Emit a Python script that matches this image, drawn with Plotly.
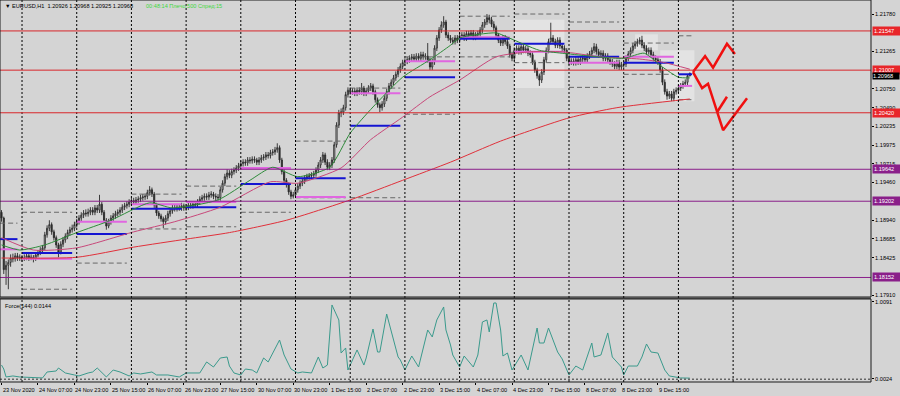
import plotly.graph_objects as go

# ---------------- DATA ----------------
first_open = 1.1905
closes = [1.1897,1.1826,1.1832,1.1836,1.1842,1.1841,1.1845,1.1842,1.1843,1.1841,
 1.1842,1.1845,1.1842,1.1843,1.1841,1.1846,1.1849,1.1853,1.1856,1.1874,
 1.1883,1.1888,1.1878,1.1870,1.1860,1.1850,1.1861,1.1867,1.1872,1.1877,
 1.1881,1.1883,1.1888,1.1892,1.1897,1.1901,1.1904,1.1903,1.1905,1.1908,
 1.1905,1.1911,1.1908,1.1916,1.1905,1.1894,1.1886,1.1892,1.1897,1.1900,
 1.1903,1.1905,1.1908,1.1912,1.1914,1.1916,1.1919,1.1921,1.1919,1.1922,
 1.1923,1.1925,1.1926,1.1927,1.1932,1.1936,1.1930,1.1915,1.1904,1.1900,
 1.1896,1.1892,1.1897,1.1903,1.1907,1.1911,1.1910,1.1912,1.1911,1.1914,
 1.1911,1.1912,1.1915,1.1914,1.1916,1.1915,1.1919,1.1923,1.1925,1.1927,
 1.1926,1.1929,1.1930,1.1927,1.1926,1.1925,1.1936,1.1945,1.1954,1.1959,
 1.1956,1.1961,1.1963,1.1966,1.1969,1.1972,1.1974,1.1973,1.1977,1.1976,
 1.1978,1.1977,1.1974,1.1977,1.1980,1.1981,1.1984,1.1983,1.1987,1.1988,
 1.1991,1.1994,1.1977,1.1961,1.1949,1.1943,1.1933,1.1927,1.1929,1.1936,
 1.1941,1.1945,1.1948,1.1952,1.1954,1.1955,1.1956,1.1958,1.1963,1.1970,
 1.1977,1.1984,1.1974,1.1967,1.1970,1.1977,1.1998,1.2025,1.2042,1.2043,
 1.2049,1.2067,1.2073,1.2071,1.2072,1.2069,1.2073,1.2071,1.2076,1.2069,
 1.2072,1.2076,1.2079,1.2071,1.2060,1.2053,1.2049,1.2054,1.2062,1.2071,
 1.2079,1.2084,1.2090,1.2095,1.2101,1.2106,1.2111,1.2113,1.2115,1.2117,
 1.2119,1.2116,1.2120,1.2117,1.2122,1.2119,1.2120,1.2115,1.2105,1.2112,
 1.2131,1.2145,1.2156,1.2163,1.2167,1.2149,1.2145,1.2142,1.2140,1.2145,
 1.2142,1.2148,1.2149,1.2145,1.2151,1.2148,1.2152,1.2146,1.2149,1.2151,
 1.2156,1.2163,1.2167,1.2173,1.2170,1.2164,1.2159,1.2149,1.2142,1.2138,
 1.2145,1.2140,1.2134,1.2122,1.2117,1.2128,1.2131,1.2126,1.2133,1.2128,
 1.2130,1.2124,1.2122,1.2112,1.2101,1.2093,1.2087,1.2098,1.2115,1.2128,
 1.2140,1.2145,1.2140,1.2135,1.2142,1.2134,1.2131,1.2128,1.2117,1.2112,
 1.2113,1.2111,1.2115,1.2112,1.2116,1.2117,1.2115,1.2120,1.2123,1.2128,
 1.2133,1.2126,1.2122,1.2124,1.2117,1.2120,1.2115,1.2112,1.2109,1.2106,
 1.2111,1.2105,1.2108,1.2109,1.2117,1.2123,1.2128,1.2134,1.2137,1.2140,
 1.2142,1.2135,1.2131,1.2126,1.2128,1.2122,1.2117,1.2115,1.2112,1.2101,
 1.2084,1.2071,1.2065,1.2068,1.2062,1.2071,1.2073,1.2076,1.2079,1.2082,
 1.2084,1.2093,1.20968]

highs = [1.1908,1.1899,1.1838,1.1840,1.1847,1.1848,1.1849,1.1849,1.1847,1.1846,
 1.1847,1.1849,1.1848,1.1847,1.1846,1.1850,1.1853,1.1857,1.1860,1.1878,
 1.1887,1.1894,1.1891,1.1881,1.1873,1.1863,1.1865,1.1871,1.1876,1.1881,
 1.1885,1.1888,1.1892,1.1896,1.1901,1.1905,1.1908,1.1909,1.1910,1.1912,
 1.1912,1.1915,1.1915,1.1929,1.1919,1.1908,1.1897,1.1896,1.1901,1.1904,
 1.1907,1.1909,1.1912,1.1916,1.1918,1.1920,1.1923,1.1925,1.1925,1.1926,
 1.1927,1.1929,1.1930,1.1931,1.1936,1.1941,1.1939,1.1933,1.1918,1.1907,
 1.1903,1.1899,1.1901,1.1907,1.1911,1.1915,1.1915,1.1916,1.1916,1.1918,
 1.1917,1.1916,1.1919,1.1919,1.1920,1.1920,1.1923,1.1927,1.1929,1.1931,
 1.1931,1.1933,1.1934,1.1933,1.1931,1.1930,1.1940,1.1949,1.1958,1.1964,
 1.1963,1.1965,1.1967,1.1970,1.1973,1.1976,1.1978,1.1978,1.1981,1.1981,
 1.1982,1.1982,1.1980,1.1981,1.1984,1.1985,1.1988,1.1988,1.1991,1.1992,
 1.1995,1.2000,1.1997,1.1980,1.1964,1.1952,1.1946,1.1936,1.1933,1.1940,
 1.1945,1.1949,1.1952,1.1956,1.1958,1.1959,1.1960,1.1962,1.1967,1.1974,
 1.1981,1.1988,1.1987,1.1978,1.1974,1.1981,1.2002,1.2029,1.2046,1.2048,
 1.2053,1.2071,1.2077,1.2077,1.2076,1.2076,1.2077,1.2077,1.2083,1.2079,
 1.2076,1.2080,1.2083,1.2082,1.2074,1.2063,1.2056,1.2058,1.2066,1.2075,
 1.2083,1.2088,1.2094,1.2099,1.2105,1.2110,1.2115,1.2117,1.2119,1.2121,
 1.2123,1.2123,1.2124,1.2124,1.2126,1.2126,1.2124,1.2138,1.2118,1.2116,
 1.2135,1.2149,1.2160,1.2168,1.2175,1.2170,1.2153,1.2149,1.2146,1.2149,
 1.2149,1.2152,1.2153,1.2153,1.2155,1.2155,1.2156,1.2156,1.2153,1.2155,
 1.2160,1.2167,1.2171,1.2178,1.2177,1.2174,1.2168,1.2162,1.2152,1.2146,
 1.2149,1.2149,1.2144,1.2137,1.2126,1.2132,1.2135,1.2135,1.2137,1.2137,
 1.2134,1.2134,1.2128,1.2126,1.2115,1.2104,1.2096,1.2102,1.2119,1.2132,
 1.2144,1.2166,1.2149,1.2144,1.2146,1.2146,1.2138,1.2135,1.2131,1.2121,
 1.2117,1.2117,1.2119,1.2119,1.2120,1.2121,1.2121,1.2124,1.2127,1.2132,
 1.2138,1.2137,1.2130,1.2128,1.2128,1.2124,1.2124,1.2119,1.2116,1.2113,
 1.2115,1.2115,1.2112,1.2113,1.2121,1.2127,1.2132,1.2138,1.2141,1.2144,
 1.2146,1.2148,1.2139,1.2135,1.2132,1.2132,1.2126,1.2121,1.2119,1.2116,
 1.2105,1.2088,1.2075,1.2072,1.2072,1.2075,1.2077,1.2080,1.2083,1.2086,
 1.2088,1.2094,1.20968]

lows = [1.1892,1.1820,1.1805,1.1799,1.1830,1.1836,1.1837,1.1838,1.1838,1.1837,
 1.1838,1.1839,1.1838,1.1839,1.1836,1.1838,1.1843,1.1846,1.1850,1.1853,
 1.1870,1.1879,1.1874,1.1866,1.1856,1.1843,1.1847,1.1857,1.1863,1.1868,
 1.1873,1.1877,1.1879,1.1884,1.1888,1.1893,1.1897,1.1899,1.1899,1.1901,
 1.1901,1.1901,1.1904,1.1904,1.1901,1.1890,1.1881,1.1883,1.1888,1.1893,
 1.1896,1.1899,1.1901,1.1904,1.1908,1.1910,1.1912,1.1915,1.1915,1.1915,
 1.1918,1.1919,1.1921,1.1922,1.1923,1.1928,1.1926,1.1911,1.1900,1.1896,
 1.1892,1.1883,1.1888,1.1893,1.1899,1.1903,1.1906,1.1906,1.1907,1.1907,
 1.1907,1.1907,1.1908,1.1910,1.1910,1.1911,1.1911,1.1915,1.1919,1.1921,
 1.1922,1.1922,1.1925,1.1923,1.1921,1.1921,1.1921,1.1932,1.1941,1.1950,
 1.1952,1.1952,1.1957,1.1959,1.1962,1.1965,1.1968,1.1969,1.1969,1.1972,
 1.1972,1.1973,1.1970,1.1970,1.1973,1.1976,1.1977,1.1979,1.1979,1.1983,
 1.1984,1.1987,1.1973,1.1957,1.1945,1.1939,1.1929,1.1923,1.1924,1.1925,
 1.1932,1.1937,1.1941,1.1944,1.1948,1.1950,1.1951,1.1952,1.1954,1.1959,
 1.1966,1.1973,1.1970,1.1963,1.1963,1.1966,1.1973,1.1994,1.2021,1.2036,
 1.2039,1.2045,1.2063,1.2067,1.2067,1.2065,1.2065,1.2067,1.2067,1.2065,
 1.2065,1.2068,1.2072,1.2067,1.2056,1.2049,1.2043,1.2045,1.2050,1.2058,
 1.2067,1.2075,1.2080,1.2086,1.2091,1.2097,1.2102,1.2107,1.2109,1.2111,
 1.2113,1.2112,1.2112,1.2113,1.2113,1.2115,1.2115,1.2111,1.2101,1.2101,
 1.2108,1.2127,1.2141,1.2152,1.2159,1.2145,1.2141,1.2138,1.2136,1.2136,
 1.2138,1.2138,1.2144,1.2141,1.2141,1.2144,1.2144,1.2142,1.2142,1.2145,
 1.2147,1.2152,1.2159,1.2163,1.2165,1.2160,1.2155,1.2145,1.2138,1.2134,
 1.2134,1.2136,1.2130,1.2118,1.2113,1.2113,1.2124,1.2122,1.2122,1.2124,
 1.2124,1.2120,1.2118,1.2108,1.2097,1.2089,1.2079,1.2083,1.2094,1.2111,
 1.2124,1.2136,1.2136,1.2131,1.2131,1.2130,1.2127,1.2124,1.2113,1.2108,
 1.2108,1.2107,1.2107,1.2108,1.2108,1.2112,1.2111,1.2111,1.2116,1.2119,
 1.2124,1.2122,1.2118,1.2118,1.2113,1.2113,1.2111,1.2108,1.2105,1.2102,
 1.2102,1.2101,1.2101,1.2104,1.2105,1.2113,1.2119,1.2124,1.2130,1.2133,
 1.2136,1.2131,1.2127,1.2122,1.2122,1.2118,1.2113,1.2111,1.2108,1.2097,
 1.2080,1.2067,1.2060,1.2061,1.2058,1.2058,1.2067,1.2069,1.2072,1.2075,
 1.2078,1.2080,1.20925]

# moving averages (read at sample bars)
slow_ma_bar = [0,33,58,81,100,125,153,176,197,219,249,270,302]
slow_ma_val = [1.1842,1.1843,1.1857,1.1868,1.1877,1.1894,1.1922,1.1949,1.1974,1.2003,1.2035,1.2049,1.2061]
mid_ma_bar = [0,14,33,58,76,96,118,130,149,162,176,188,201,217,232,246,263,280,291,302]
mid_ma_val = [1.1870,1.1853,1.1856,1.1878,1.1892,1.1912,1.1947,1.1945,1.1966,1.2005,1.2036,1.2064,1.2087,1.2119,1.2126,1.2126,1.2119,1.2116,1.2111,1.2102]
fast_ma_bar = [0,8,19,33,48,65,75,95,109,119,130,144,153,163,176,188,197,201,217,222,236,246,273,282,290,297,302]
fast_ma_val = [1.1860,1.1853,1.1860,1.1877,1.1894,1.1918,1.1911,1.1922,1.1949,1.1967,1.1954,1.1967,1.2014,1.2050,1.2091,1.2115,1.2135,1.2145,1.2152,1.2146,1.2128,1.2124,1.2117,1.2124,1.2105,1.2091,1.2090]

# Force index (lower pane)
force_bar = [0,1,2,5,8,18,20,24,25,28,32,34,38,40,42,43,46,49,52,56,58,61,66,68,73,78,81,87,90,93,96,99,100,102,105,107,110,112,115,117,119,122,124,127,130,132,136,139,141,143,145,148,149,151,152,156,159,160,163,165,166,169,174,175,177,180,183,187,189,191,194,195,197,198,201,203,207,209,211,213,214,216,217,219,220,222,224,228,231,235,236,238,240,244,246,249,252,255,259,260,263,266,268,272,273,275,279,281,283,285,288,291,293,298,302]
force_val = [0.185,0.133,0.029,0.042,0.029,0.016,0.094,0.107,0.146,0.081,0.055,0.042,0.081,0.094,0.146,0.120,0.029,0.120,0.094,0.042,0.081,0.068,0.094,0.055,0.055,0.029,0.081,0.081,0.225,0.159,0.277,0.290,0.172,0.081,0.055,0.133,0.120,0.081,0.277,0.225,0.342,0.512,0.316,0.133,0.081,0.094,0.081,0.290,0.146,0.185,0.970,0.774,0.342,0.408,0.120,0.382,0.185,0.277,0.656,0.355,0.355,0.852,0.290,0.251,0.120,0.303,0.159,0.643,0.552,0.774,0.944,0.643,0.447,0.316,0.159,0.303,0.159,0.316,0.748,0.774,0.617,0.996,0.996,0.643,0.303,0.342,0.120,0.316,0.120,0.669,0.473,0.473,0.669,0.355,0.264,0.055,0.172,0.120,0.473,0.290,0.316,0.604,0.290,0.159,0.055,0.172,0.172,0.290,0.460,0.355,0.342,0.120,0.042,0.016,0.014]

# daily levels: start bar of each day, and per-day levels
day_start = [-15,9,33,57,81,105,129,153,177,201,225,249,273,297]
blue_level = [1.1868,1.1849,1.1875,1.1910,1.1912,1.1944,1.1952,1.2024,1.2091,1.2144,1.2137,1.2119,1.2111,1.2095]
pink_level = [1.1854,1.1841,1.1892,1.1916,1.1919,1.1966,1.1926,1.2069,1.2113,1.2146,1.2126,1.2111,1.2119,1.2079]
prev_high = [1.1890,1.1905,None,1.1930,1.1941,None,1.2003,1.2076,1.2119,1.2175,1.2178,1.2167,1.2138,1.2148]
prev_low = [None,1.1799,1.1835,1.1882,1.1885,1.1905,1.1925,1.1925,1.2040,1.2119,1.2111,1.2077,1.2095,1.2060]
last_bar = 302

# horizontal support / resistance
red_levels = [1.21547, 1.21007, 1.20420]
purple_levels = [1.19642, 1.19202, 1.18152]
bid_price = 1.20968

# forecast zigzags
fc_up_bar = [303.4, 308.7, 312.2, 318.3, 321.8]
fc_up_val = [1.2098, 1.2120, 1.2104, 1.2137, 1.2123]
fc_dn_bar = [303.4, 307.4, 310.0, 316.6, 327.1]
fc_dn_val = [1.2098, 1.2076, 1.2082, 1.2018, 1.2062]
fc_stub_bar = [314.0, 318.3]
fc_stub_val = [1.2043, 1.2064]

# light boxes (bar0, bar1, price_lo, price_hi)
boxes = [(225, 247, 1.2076, 1.2170), (278, 288, 1.2128, 1.2150), (289, 304, 1.2058, 1.2128)]

# axis labels
price_ticks = [1.21780, 1.21265, 1.20750, 1.20490, 1.20235, 1.19975, 1.19715, 1.19460, 1.18940, 1.18685, 1.18425, 1.17910]
time_label_bars = [0,16,32,48,64,80,96,112,128,144,160,176,192,208,224,240,256,272,288]
time_labels = ["23 Nov 2020","24 Nov 07:00","24 Nov 23:00","25 Nov 15:00","26 Nov 07:00","26 Nov 23:00",
               "27 Nov 15:00","30 Nov 07:00","30 Nov 23:00","1 Dec 15:00","2 Dec 07:00","2 Dec 23:00",
               "3 Dec 15:00","4 Dec 07:00","4 Dec 23:00","7 Dec 15:00","8 Dec 07:00","8 Dec 23:00","9 Dec 15:00"]
grid_bars = [9,33,57,81,105,129,153,177,201,225,249,273,297,321]

# ---------------- FIGURE ----------------
BG = "#d4d4d4"
FONT = "Liberation Sans"
FS = 5.6
bars = list(range(len(closes)))
opens = [first_open] + closes[:-1]
opens[-1] = 1.20926

MAIN_DOM = [0.2225, 1.0]
LOW_DOM = [0.0, 0.2173]

fig = go.Figure()

shapes = []
for b0, b1, lo, hi in boxes:
    shapes.append(dict(type="rect", xref="x", yref="y", x0=b0, x1=b1, y0=lo, y1=hi,
                       fillcolor="#e3e3e3", line=dict(width=0), layer="below"))
for gb in grid_bars:
    shapes.append(dict(type="line", xref="x", yref="paper", x0=gb, x1=gb, y0=0, y1=1,
                       line=dict(color="#000000", width=1, dash="2px,2px")))
for lv in red_levels:
    shapes.append(dict(type="line", xref="paper", yref="y", x0=0, x1=1, y0=lv, y1=lv,
                       line=dict(color="#d8262a", width=1)))
for lv in purple_levels:
    shapes.append(dict(type="line", xref="paper", yref="y", x0=0, x1=1, y0=lv, y1=lv,
                       line=dict(color="#8a1f8a", width=1)))
shapes.append(dict(type="line", xref="paper", yref="y2", x0=0, x1=1, y0=0, y1=0,
                   line=dict(color="#303030", width=1, dash="2px,2px")))
# pane frames
shapes.append(dict(type="rect", xref="paper", yref="paper", x0=0, x1=1, y0=MAIN_DOM[0], y1=1,
                   line=dict(color="#1a1a1a", width=1)))
shapes.append(dict(type="rect", xref="paper", yref="paper", x0=0, x1=1, y0=LOW_DOM[0], y1=LOW_DOM[1],
                   line=dict(color="#1a1a1a", width=1)))
shapes.append(dict(type="line", xref="paper", yref="paper", x0=0, x1=1, y0=MAIN_DOM[0]-0.003, y1=MAIN_DOM[0]-0.003,
                   line=dict(color="#1a1a1a", width=1)))

# daily segments
def seg_xy(levels):
    xs, ys = [], []
    for s, lv in zip(day_start, levels):
        if lv is None:
            continue
        e = min(s + 22, last_bar + 1)
        xs += [max(s, -0.6), e, None]
        ys += [lv, lv, None]
    return xs, ys

gx, gy = seg_xy(prev_high)
fig.add_trace(go.Scatter(x=gx, y=gy, mode="lines", line=dict(color="#686868", width=1, dash="5px,3px"),
                         hoverinfo="skip", showlegend=False))
gx, gy = seg_xy(prev_low)
fig.add_trace(go.Scatter(x=gx, y=gy, mode="lines", line=dict(color="#686868", width=1, dash="5px,3px"),
                         hoverinfo="skip", showlegend=False))
px_, py_ = seg_xy(pink_level)
fig.add_trace(go.Scatter(x=px_, y=py_, mode="lines", line=dict(color="#e066e0", width=2),
                         hoverinfo="skip", showlegend=False))
bx, by = seg_xy(blue_level)
fig.add_trace(go.Scatter(x=bx, y=by, mode="lines", line=dict(color="#1414d2", width=2),
                         hoverinfo="skip", showlegend=False))

# moving averages
fig.add_trace(go.Scatter(x=slow_ma_bar, y=slow_ma_val, mode="lines", line=dict(color="#e0303a", width=1, shape="spline", smoothing=0.6),
                         hoverinfo="skip", showlegend=False))
fig.add_trace(go.Scatter(x=mid_ma_bar, y=mid_ma_val, mode="lines", line=dict(color="#c8487a", width=1, shape="spline", smoothing=0.6),
                         hoverinfo="skip", showlegend=False))
fig.add_trace(go.Scatter(x=fast_ma_bar, y=fast_ma_val, mode="lines", line=dict(color="#2e8b3a", width=1, shape="spline", smoothing=0.6),
                         hoverinfo="skip", showlegend=False))

# candles
fig.add_trace(go.Candlestick(x=bars, open=opens, high=highs, low=lows, close=closes,
                             increasing=dict(line=dict(color="#2a2a2a", width=0.9), fillcolor="#ececec"),
                             decreasing=dict(line=dict(color="#2a2a2a", width=0.9), fillcolor="#2a2a2a"),
                             whiskerwidth=0, hoverinfo="skip", showlegend=False, xaxis="x", yaxis="y"))

# forecast zigzags
for fx, fy in [(fc_up_bar, fc_up_val), (fc_dn_bar, fc_dn_val), (fc_stub_bar, fc_stub_val)]:
    fig.add_trace(go.Scatter(x=fx, y=fy, mode="lines", line=dict(color="#f01010", width=2.5),
                             hoverinfo="skip", showlegend=False))

# force index
fig.add_trace(go.Scatter(x=force_bar, y=force_val, mode="lines", line=dict(color="#3a9a8c", width=1),
                         xaxis="x", yaxis="y2", hoverinfo="skip", showlegend=False))

annotations = []
for b, t in zip(time_label_bars, time_labels):
    annotations.append(dict(x=b, xref="x", y=0, yref="paper", text=t, showarrow=False,
                            xanchor="left", yanchor="top", xshift=-1, yshift=-3,
                            font=dict(family=FONT, size=FS, color="#000000")))
for lv in red_levels:
    annotations.append(dict(x=1, xref="paper", y=lv, yref="y", text="%.5f" % lv, showarrow=False,
                            xanchor="left", xshift=1, bgcolor="#e8262a", borderpad=1, width=26, align="left",
                            font=dict(family=FONT, size=FS, color="#ffffff")))
for lv in purple_levels:
    annotations.append(dict(x=1, xref="paper", y=lv, yref="y", text="%.5f" % lv, showarrow=False,
                            xanchor="left", xshift=1, bgcolor="#8a1f8a", borderpad=1, width=26, align="left",
                            font=dict(family=FONT, size=FS, color="#ffffff")))
annotations.append(dict(x=1, xref="paper", y=bid_price, yref="y", text="%.5f" % bid_price, showarrow=False,
                        xanchor="left", yanchor="top", xshift=1, yshift=1, bgcolor="#000000", borderpad=0, width=26, align="left",
                        font=dict(family=FONT, size=FS, color="#ffffff")))
annotations.append(dict(x=0, xref="paper", y=1, yref="paper", xshift=3, yshift=-1, xanchor="left", yanchor="top",
                        text="▼ EURUSD,H1  1.20926 1.20968 1.20925 1.20968", showarrow=False,
                        font=dict(family=FONT, size=FS, color="#000000")))
annotations.append(dict(x=0, xref="paper", y=1, yref="paper", xshift=144, yshift=-1, xanchor="left", yanchor="top",
                        text="00:48:14 Плечо:500 Спред:15", showarrow=False,
                        font=dict(family=FONT, size=FS, color="#3ed83e")))
annotations.append(dict(x=0, xref="paper", y=LOW_DOM[1], yref="paper", xshift=3, yshift=-2, xanchor="left", yanchor="top",
                        text="Force(144) 0.0144", showarrow=False,
                        font=dict(family=FONT, size=FS, color="#000000")))

fig.update_layout(
    width=900, height=396,
    margin=dict(l=0, r=29, t=0, b=14),
    paper_bgcolor=BG, plot_bgcolor=BG,
    showlegend=False,
    shapes=shapes, annotations=annotations,
    xaxis=dict(range=[-0.66, 381.5], anchor="y2", showgrid=False, zeroline=False,
               showticklabels=False, ticks="outside", ticklen=2, tickcolor="#000000",
               tickvals=time_label_bars, rangeslider=dict(visible=False), fixedrange=True),
    yaxis=dict(domain=MAIN_DOM, range=[1.17883, 1.21973], side="right", showgrid=False, zeroline=False,
               tickvals=price_ticks, ticktext=["%.5f" % v for v in price_ticks],
               ticks="outside", ticklen=2, tickcolor="#000000",
               tickfont=dict(family=FONT, size=FS, color="#000000")),
    yaxis2=dict(domain=LOW_DOM, range=[-0.0369, 1.0483], side="right", showgrid=False, zeroline=False,
                tickvals=[1.0091, 0.0024], ticktext=["1.0091", "0.0024"],
                ticks="outside", ticklen=2, tickcolor="#000000",
                tickfont=dict(family=FONT, size=FS, color="#000000")),
)

fig.write_html("out.html", config={"displayModeBar": False},
               post_script="document.body.style.margin='0';document.body.style.overflow='hidden';")
